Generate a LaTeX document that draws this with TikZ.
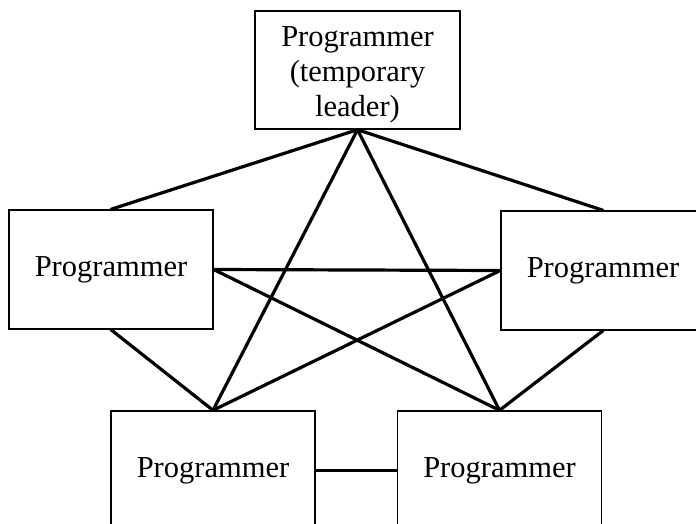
\documentclass[tikz,border=0pt]{standalone}
\usepackage{fontspec}
\setmainfont{Liberation Serif}
\begin{document}
\begin{tikzpicture}[x=1pt,y=-1pt,
  progbox/.style={draw,line width=1.4pt,rectangle,minimum width=204pt,minimum height=119pt,
    inner sep=0pt,align=center,font=\fontsize{30.5}{35}\selectfont},
  plain/.style={inner sep=0pt,align=center,font=\fontsize{30.5}{35}\selectfont},
  link/.style={line width=3.2pt,line cap=round}]
\useasboundingbox (0,0) rectangle (696,524);
\clip (0,0) rectangle (696,524);
\node[progbox,minimum width=205pt,minimum height=118pt] (lead) at (357.5,70) {};
\node[plain] (leadtext) at (357.5,75) {Programmer\\(temporary\\leader)};
\node[progbox] (pl) at (111,269.5) {Programmer};
\node[progbox] (pr) at (603,270.5) {Programmer};
\node[progbox] (bl) at (213,470.5) {Programmer};
\node[progbox] (br) at (499.5,470.5) {Programmer};
% leader to everyone
\draw[link] (lead.south) -- (pl.north);
\draw[link] (lead.south) -- (pr.north);
\draw[link] (lead.south) -- (bl.north);
\draw[link] (lead.south) -- (br.north);
% side programmers
\draw[link] (pl.east) -- (pr.west);
\draw[link] (pl.east) -- (br.north);
\draw[link] (pr.west) -- (bl.north);
\draw[link] (pl.south) -- (bl.north);
\draw[link] (pr.south) -- (br.north);
% bottom pair
\draw[link] (bl.east) -- (br.west);
\end{tikzpicture}
\end{document}
